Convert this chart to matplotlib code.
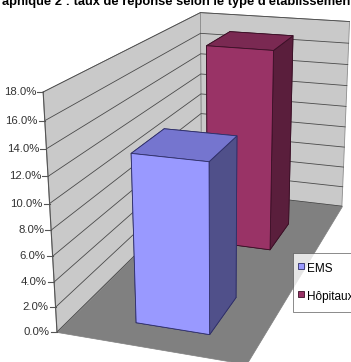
import numpy as np
import matplotlib
matplotlib.use("Agg")
import matplotlib.pyplot as plt
from matplotlib.lines import Line2D
from mpl_toolkits.mplot3d import proj3d
from mpl_toolkits.mplot3d.art3d import Poly3DCollection

plt.rcParams['font.family'] = ['Liberation Sans', 'DejaVu Sans']

# --- data ---
title = "Graphique 2 : taux de réponse selon le type d'établissement"
series = ["EMS", "Hôpitaux"]
values = [13.2, 17.6]                      # taux de réponse, %
ticks = np.arange(0, 18.1, 2)
tick_labels = [f"{t:.1f}%" for t in ticks]
zmax = 18

# --- styles ---
front_colors = ["#9999FF", "#993366"]
top_colors = ["#7575CF", "#7A2952"]
side_colors = ["#50508A", "#5A1E3C"]
edge_colors = ["#2E2E66", "#3A1026"]
wall_col = "#C9C9C9"
floor_col = "#808080"
grid_col = "#4A4A4A"

# excel-like layout: one category, the two series one behind the other
W = 2.5            # category width
D = 5.0            # depth (2 series rows)
bar_x0, bar_w = 0.85, 1.0
row_y0 = [0.5, 3.05]
row_d = 1.0

FW, FH = 351, 362
fig = plt.figure(figsize=(FW / 100, FH / 100), dpi=100)
ax = fig.add_axes([0, 0, 1, 1], projection="3d", computed_zorder=False)
ax.set_proj_type("persp", focal_length=0.4)
ax.view_init(elev=18.5, azim=-71.5)
ax.set_box_aspect((0.8, 1.75, 1.0))
ax.set_xlim(0, W)
ax.set_ylim(0, D)
ax.set_zlim(0, zmax)
ax.set_axis_off()


def to_frac(x, y, z):
    xs, ys, _ = proj3d.proj_transform(x, y, z, ax.get_proj())
    return ax.transLimits.transform((xs, ys))


# fit the front-left wall edge onto the reference frame (pixels from bottom-left)
fb = to_frac(0, 0, 0)
ft = to_frac(0, 0, zmax)
bx, by = 57, FH - 332
ty = FH - 92
side = (ty - by) / (ft[1] - fb[1])
ax0, ay0 = bx - side * fb[0], by - side * fb[1]
ax.set_position([ax0 / FW, ay0 / FH, side / FW, side / FH])


def to_px(x, y, z):
    f = to_frac(x, y, z)
    return ax0 + side * f[0], ay0 + side * f[1]


# walls and floor
floor = [[(0, 0, 0), (W, 0, 0), (W, D, 0), (0, D, 0)]]
left_wall = [[(0, 0, 0), (0, D, 0), (0, D, zmax), (0, 0, zmax)]]
back_wall = [[(0, D, 0), (W, D, 0), (W, D, zmax), (0, D, zmax)]]
ax.add_collection3d(Poly3DCollection(floor, facecolor=floor_col, edgecolor=floor_col,
                                     linewidth=0.5, zorder=1))
ax.add_collection3d(Poly3DCollection(left_wall + back_wall, facecolor=wall_col,
                                     edgecolor="#8C8C8C", linewidth=0.6, zorder=1))

# gridlines on both walls
for t in ticks:
    ax.plot([0, 0, W], [0, D, D], [t, t, t], color=grid_col, lw=0.6, zorder=2)

# bars, back row first
for i in [1, 0]:
    faces = [front_colors[i], top_colors[i], front_colors[i],
             front_colors[i], front_colors[i], side_colors[i]]
    ax.bar3d(bar_x0, row_y0[i], 0, bar_w, row_d, values[i], color=faces,
             shade=False, edgecolor=edge_colors[i], linewidth=0.6, zorder=3 + (1 - i))

# value axis on the front-left edge
ax.plot([0, 0], [0, 0], [0, zmax], color="#555555", lw=0.8, zorder=5)
for t, lab in zip(ticks, tick_labels):
    px, py = to_px(0, 0, t)
    fig.add_artist(Line2D([(px - 6) / FW, px / FW], [py / FH, py / FH],
                          color="#555555", lw=0.8))
    fig.text((px - 7) / FW, py / FH, lab, ha="right", va="center",
             fontsize=8.2, color="#333333")

fig.text(0.487, 1 - 4.5 / FH, title, ha="center", va="baseline",
         fontsize=9.3, fontweight="bold")

handles = [Line2D([], [], linestyle="none", marker="s", markersize=4.5,
                  markerfacecolor=front_colors[i], markeredgecolor=edge_colors[i],
                  markeredgewidth=0.6, label=series[i])
           for i in range(len(series))]
leg = fig.legend(handles=handles, loc="upper left", bbox_to_anchor=(293 / FW, 1 - 253 / FH),
                 fontsize=8.5, frameon=True, fancybox=False, handlelength=0.15,
                 handleheight=1.8, handletextpad=0.45, labelspacing=0.93,
                 borderpad=0.6, borderaxespad=0)
leg.get_frame().set_edgecolor("#555555")
leg.get_frame().set_linewidth(0.6)

fig.savefig("out.png", dpi=100)
